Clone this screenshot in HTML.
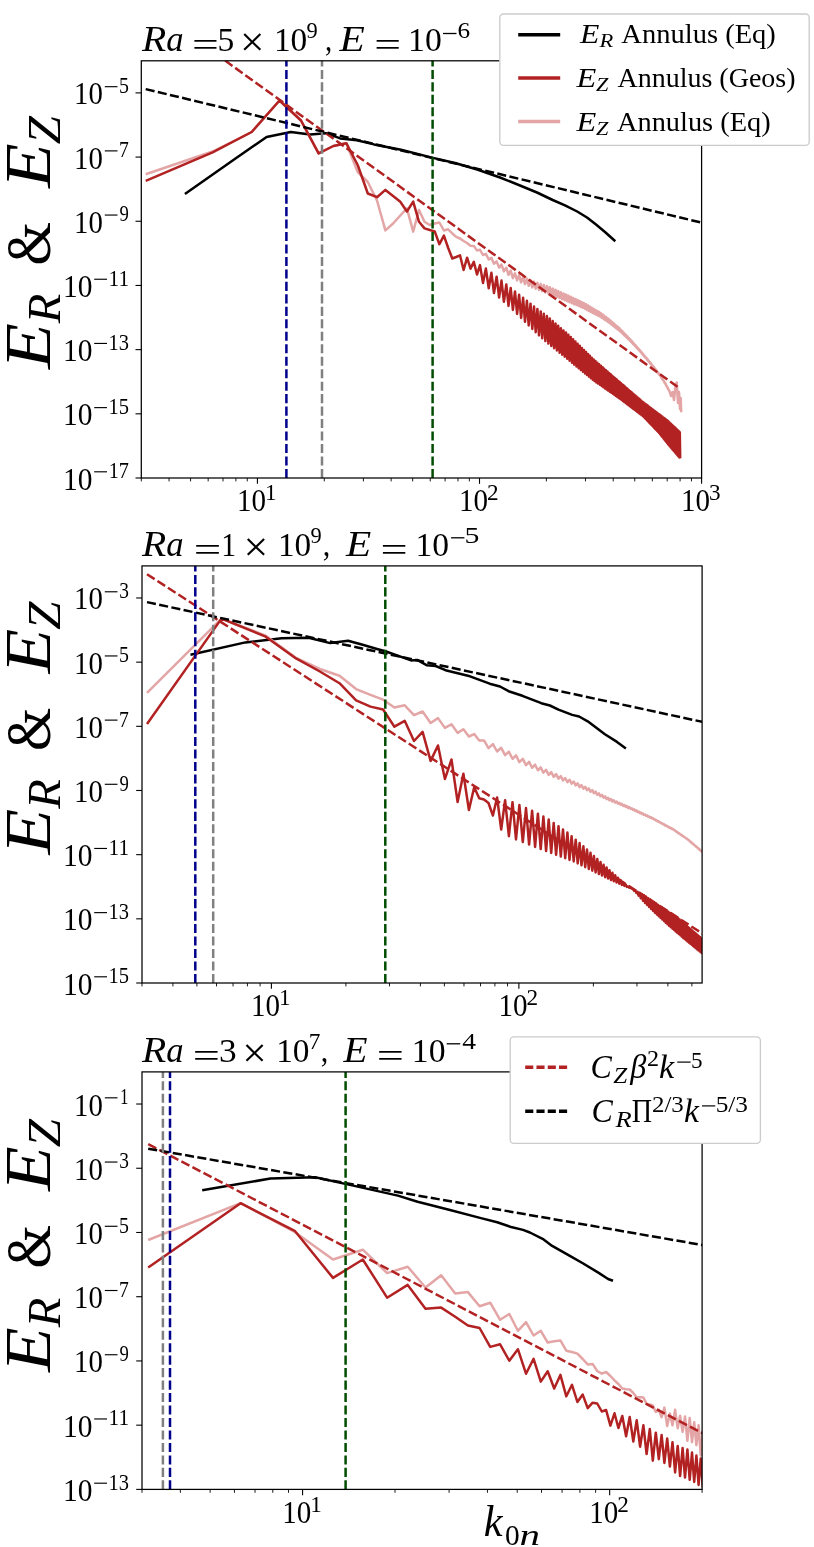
<!DOCTYPE html>
<html><head><meta charset="utf-8"><title>Spectra</title>
<style>html,body{margin:0;padding:0;background:#fff}svg{display:block;will-change:transform}text{font-family:"Liberation Serif",serif}</style>
</head><body>
<svg width="814" height="1547" viewBox="0 0 814 1547">
<rect x="0" y="0" width="814" height="1547" fill="#fff"/>
<clipPath id="c0"><rect x="141.3" y="60.8" width="560.3" height="417.2"/></clipPath>
<clipPath id="c1"><rect x="142.0" y="565.9" width="560.1" height="417.1"/></clipPath>
<clipPath id="c2"><rect x="142.0" y="1071.9" width="560.1" height="417.5"/></clipPath>
<path d="M184.9 194.0 L234.1 159.6 L266.6 136.9 L290.8 132.0 L310.2 134.4 L326.3 133.2 L340.1 138.4 L356.9 140.2 L374.0 144.4 L401.0 149.8 L433.0 157.9 L455.0 163.0 L477.2 169.5 L500.0 177.5 L520.0 185.5 L537.0 192.5 L552.7 200.0 L565.0 205.3 L577.2 211.5 L587.0 217.5 L595.7 224.3 L605.0 232.0 L615.3 241.3" fill="none" stroke="#000" stroke-width="2.5" stroke-linejoin="round"  clip-path="url(#c0)"/>
<path d="M145.7 174.3 L212.6 151.5 L251.7 132.0 L279.5 100.5 L301.0 120.5 L318.6 153.4 L333.4 146.0 L346.3 143.2 L357.7 172.0 L367.8 182.0 L377.0 200.5 L385.4 230.4 L393.1 223.5 L400.3 215.5 L406.9 208.3 L413.2 231.6 L419.0 210.0 L424.5 221.8 L429.7 225.0 L434.7 223.5 L439.4 222.5 L443.9 230.5 L448.2 229.3 L452.3 233.5 L456.2 236.9 L460.0 238.5 L463.6 241.0 L467.1 243.0 L470.5 245.8 L473.8 245.9 L477.0 250.4 L480.0 249.8 L483.0 255.0 L485.9 253.9 L488.7 259.5 L491.4 257.7 L494.0 263.7 L496.6 261.4 L499.1 267.6 L501.5 264.6 L503.9 271.3 L506.3 267.7 L508.5 274.8 L510.7 270.6 L512.9 278.1 L515.0 273.3 L517.1 280.4 L519.1 275.1 L521.1 282.3 L523.1 276.9 L525.0 284.1 L526.9 278.6 L528.7 285.8 L530.5 280.2 L532.3 287.4 L534.0 281.6 L535.7 288.7 L537.4 282.8 L539.0 290.0 L540.7 283.9 L542.2 291.2 L543.8 285.0 L545.4 292.5 L546.9 286.1 L548.4 293.6 L549.8 287.3 L551.3 294.8 L552.7 288.6 L554.1 295.9 L555.5 289.8 L556.9 297.0 L558.2 291.0 L559.6 298.1 L560.9 292.2 L562.2 299.2 L563.5 293.4 L564.7 300.2 L566.0 294.5 L567.2 301.2 L568.4 295.6 L569.6 302.2 L570.8 296.8 L572.0 303.2 L573.1 297.9 L574.2 304.2 L575.4 299.0 L576.5 305.1 L577.6 300.0 L578.7 306.0 L579.8 301.1 L580.8 306.9 L581.9 302.1 L582.9 307.8 L584.0 303.1 L585.0 308.8 L586.0 304.3 L587.0 309.9 L588.0 305.5 L589.0 310.9 L589.9 306.6 L590.9 311.9 L591.8 307.8 L592.8 312.9 L593.7 308.9 L594.6 313.8 L595.5 309.9 L596.4 314.8 L597.3 311.0 L598.2 315.7 L599.1 312.0 L600.0 316.6 L600.9 313.1 L601.7 317.7 L602.6 314.5 L603.4 318.9 L604.2 315.8 L605.1 320.0 L605.9 317.0 L606.7 321.1 L607.5 318.3 L608.3 322.2 L609.1 319.5 L609.9 323.3 L610.7 320.8 L611.4 324.5 L612.2 322.1 L613.0 325.7 L613.7 323.4 L614.5 326.9 L615.2 324.7 L616.0 328.1 L616.7 326.0 L617.4 329.2 L618.2 327.2 L618.9 330.3 L619.6 328.4 L620.3 331.5 L621.0 329.8 L621.7 332.8 L622.4 331.2 L623.1 334.1 L623.7 332.6 L624.4 335.4 L625.1 334.0 L625.8 336.7 L626.4 335.4 L627.1 338.0 L627.7 336.7 L628.4 339.2 L629.0 338.1 L629.7 340.4 L630.3 339.4 L630.9 341.7 L631.6 340.8 L632.2 343.0 L632.8 342.2 L633.4 344.3 L634.0 343.6 L634.7 345.6 L635.3 344.9 L635.9 346.9 L636.5 346.3 L637.0 348.2 L637.6 347.6 L638.2 349.4 L638.8 349.0 L639.4 350.6 L640.0 350.3 L640.5 351.9 L641.1 351.6 L641.7 353.3 L642.2 352.9 L642.8 354.6 L643.3 354.3 L643.9 355.9 L644.4 355.6 L645.0 357.2 L645.5 356.9 L646.1 358.4 L646.6 358.1 L647.2 359.7 L647.7 359.4 L648.2 360.9 L648.7 360.7 L649.3 362.2 L649.8 362.0 L650.3 363.5 L650.8 363.3 L651.3 364.7 L651.8 364.5 L652.3 366.0 L652.8 365.7 L653.3 367.2 L653.8 367.0 L654.3 368.4 L654.8 368.2 L655.3 369.6 L655.8 369.5 L656.3 370.9 L656.8 370.7 L657.3 372.1 L657.7 372.0 L658.2 373.4 L658.7 373.2 L659.2 374.6 L659.6 374.5 L660.1 375.8 L660.6 375.8 L661.0 377.2 L661.5 377.2 L661.9 378.6 L662.4 378.6 L662.9 380.0 L663.3 380.0 L663.8 381.4 L664.2 381.4 L664.6 382.8 L665.1 382.8 L665.5 384.3 L666.0 384.5 L666.4 385.9 L666.8 386.1 L667.3 387.5 L667.7 387.7 L668.1 389.1 L668.6 389.3 L669.0 390.7 L669.4 390.9 L671.0 396.0 L672.5 392.0 L674.0 400.0 L675.5 386.0 L676.7 382.5 L678.0 403.0 L679.0 392.0 L680.0 409.0 L680.7 398.0 L681.2 412.3" fill="none" stroke="#E3A5A5" stroke-width="2.5" stroke-linejoin="round"  clip-path="url(#c0)"/>
<path d="M145.7 180.9 L212.6 152.4 L251.7 132.0 L279.5 100.5 L301.0 120.5 L318.6 153.4 L333.4 146.0 L346.3 143.2 L357.7 165.0 L367.8 193.5 L377.0 197.2 L385.4 189.9 L393.1 196.0 L400.3 201.8 L406.9 211.5 L413.2 201.6 L419.0 221.8 L424.5 228.4 L429.7 230.0 L434.7 231.4 L439.4 244.2 L443.9 235.6 L448.2 248.0 L452.3 258.5 L456.2 257.0 L460.0 255.3 L463.6 270.0 L467.1 257.7 L470.5 268.6 L473.8 261.9 L477.0 274.5 L480.0 265.1 L483.0 283.1 L485.9 268.6 L488.7 288.3 L491.4 272.8 L494.0 293.0 L496.6 276.7 L499.1 297.5 L501.5 280.6 L503.9 301.8 L506.3 284.4 L508.5 305.9 L510.7 288.0 L512.9 309.9 L515.0 291.4 L517.1 313.9 L519.1 294.7 L521.1 317.9 L523.1 297.8 L525.0 321.8 L526.9 300.8 L528.7 325.5 L530.5 303.7 L532.3 329.0 L534.0 306.4 L535.7 332.2 L537.4 308.9 L539.0 335.3 L540.7 311.4 L542.2 338.3 L543.8 313.8 L545.4 341.1 L546.9 316.1 L548.4 343.6 L549.8 318.4 L551.3 345.9 L552.7 321.0 L554.1 348.2 L555.5 323.4 L556.9 350.5 L558.2 325.8 L559.6 352.7 L560.9 328.2 L562.2 354.8 L563.5 330.4 L564.7 356.8 L566.0 332.6 L567.2 358.8 L568.4 334.8 L569.6 360.8 L570.8 337.0 L572.0 362.7 L573.1 339.3 L574.2 364.6 L575.4 341.5 L576.5 366.4 L577.6 343.7 L578.7 368.2 L579.8 345.8 L580.8 370.0 L581.9 347.9 L582.9 371.7 L584.0 350.0 L585.0 373.4 L586.0 351.9 L587.0 375.0 L588.0 353.9 L589.0 376.6 L589.9 355.8 L590.9 378.2 L591.8 357.7 L592.8 379.7 L593.7 359.5 L594.6 381.1 L595.5 361.1 L596.4 382.4 L597.3 362.7 L598.2 383.6 L599.1 364.2 L600.0 384.8 L600.9 365.8 L601.7 386.0 L602.6 367.2 L603.4 387.2 L604.2 368.7 L605.1 388.4 L605.9 370.2 L606.7 389.5 L607.5 371.6 L608.3 390.6 L609.1 373.0 L609.9 391.7 L610.7 374.3 L611.4 392.8 L612.2 375.7 L613.0 393.8 L613.7 377.0 L614.5 394.9 L615.2 378.3 L616.0 395.9 L616.7 379.6 L617.4 396.9 L618.2 380.9 L618.9 397.9 L619.6 382.1 L620.3 399.0 L621.0 383.3 L621.7 400.0 L622.4 384.5 L623.1 401.1 L623.7 385.6 L624.4 402.1 L625.1 386.8 L625.8 403.1 L626.4 387.9 L627.1 404.1 L627.7 389.1 L628.4 405.1 L629.0 390.2 L629.7 406.1 L630.3 391.3 L630.9 407.0 L631.6 392.3 L632.2 407.9 L632.8 393.4 L633.4 408.9 L634.0 394.4 L634.7 409.8 L635.3 395.5 L635.9 410.7 L636.5 396.5 L637.0 411.6 L637.6 397.5 L638.2 412.5 L638.8 398.5 L639.4 413.4 L640.0 399.5 L640.5 414.2 L641.1 400.5 L641.7 415.1 L642.2 401.4 L642.8 415.9 L643.3 402.3 L643.9 417.0 L644.4 403.2 L645.0 418.2 L645.5 404.0 L646.1 419.3 L646.6 404.8 L647.2 420.4 L647.7 405.6 L648.2 421.5 L648.7 406.4 L649.3 422.6 L649.8 407.2 L650.3 423.7 L650.8 408.0 L651.3 424.7 L651.8 408.7 L652.3 425.8 L652.8 409.5 L653.3 426.8 L653.8 410.3 L654.3 427.9 L654.8 411.0 L655.3 428.9 L655.8 411.7 L656.3 429.9 L656.8 412.5 L657.3 430.9 L657.7 413.2 L658.2 431.9 L658.7 413.9 L659.2 432.9 L659.6 414.6 L660.1 434.1 L660.6 415.3 L661.0 435.2 L661.5 416.0 L661.9 436.4 L662.4 416.7 L662.9 437.5 L663.3 417.4 L663.8 438.7 L664.2 418.1 L664.6 439.8 L665.1 418.8 L665.5 440.9 L666.0 419.4 L666.4 442.0 L666.8 420.1 L667.3 443.1 L667.7 420.8 L668.1 444.2 L668.6 421.6 L669.0 445.2 L669.4 422.4 L669.8 446.3 L670.3 423.2 L670.7 447.3 L671.1 424.0 L671.5 448.3 L671.9 424.7 L672.3 449.3 L672.7 425.5 L673.2 450.2 L673.6 426.3 L674.0 451.1 L674.4 427.0 L674.8 452.0 L675.2 427.8 L675.6 453.0 L676.0 428.5 L676.4 453.9 L676.7 429.3 L677.1 454.8 L677.5 430.0 L677.9 455.7 L678.3 430.7 L678.7 456.5 L679.1 431.4 L679.5 457.4 L679.8 432.2 L680.2 458.3" fill="none" stroke="#B22222" stroke-width="2.5" stroke-linejoin="round"  clip-path="url(#c0)"/>
<path d="M215.0 53.3 L678.9 387.8" fill="none" stroke="#B22222" stroke-width="2.5" stroke-linejoin="round" stroke-dasharray="9.08 3.39" clip-path="url(#c0)"/>
<path d="M145.7 89.1 L703.0 223.0" fill="none" stroke="#000" stroke-width="2.5" stroke-linejoin="round" stroke-dasharray="9.08 3.39" clip-path="url(#c0)"/>
<line x1="286.40" y1="478.00" x2="286.40" y2="60.80" stroke="#00008B" stroke-width="2.5" stroke-dasharray="9.08 3.39"/>
<line x1="322.00" y1="478.00" x2="322.00" y2="60.80" stroke="#808080" stroke-width="2.5" stroke-dasharray="9.08 3.39"/>
<line x1="432.60" y1="478.00" x2="432.60" y2="60.80" stroke="#004d00" stroke-width="2.5" stroke-dasharray="9.08 3.39"/>
<path d="M190.5 654.7 L245.4 642.4 L281.6 638.2 L308.6 637.8 L330.2 643.1 L348.1 640.7 L363.5 645.0 L377.0 649.0 L385.3 651.3 L411.1 660.4 L417.2 659.9 L427.0 665.3 L435.7 666.0 L445.5 670.2 L470.0 676.3 L489.7 683.7 L500.0 686.5 L508.6 691.2 L522.4 695.8 L541.3 703.2 L549.9 705.5 L558.5 709.6 L572.2 714.9 L579.1 716.5 L587.7 721.3 L596.3 727.8 L604.9 734.2 L617.0 741.9 L625.9 748.5" fill="none" stroke="#000" stroke-width="2.5" stroke-linejoin="round"  clip-path="url(#c1)"/>
<path d="M147.0 692.8 L221.5 618.6 L265.0 635.3 L296.0 657.8 L319.9 669.0 L339.5 675.8 L356.1 689.1 L370.5 694.8 L383.1 699.7 L394.4 707.5 L404.7 705.3 L414.0 715.2 L422.6 711.5 L430.6 723.0 L438.0 718.1 L444.9 727.9 L451.5 724.3 L457.6 732.9 L463.4 729.2 L468.9 736.5 L474.2 734.1 L479.2 740.5 L484.0 740.4 L488.5 748.1 L492.9 744.1 L497.1 751.5 L501.2 747.8 L505.1 755.2 L508.9 751.7 L512.5 758.8 L516.0 755.4 L519.4 762.2 L522.8 758.9 L526.0 765.2 L529.1 761.9 L532.1 767.8 L535.1 764.7 L537.9 770.3 L540.7 767.4 L543.4 772.7 L546.1 769.9 L548.7 774.9 L551.2 772.1 L553.7 776.8 L556.1 774.2 L558.5 778.7 L560.8 776.1 L563.0 780.4 L565.2 778.0 L567.4 782.1 L569.5 779.7 L571.6 783.7 L573.7 781.5 L575.7 785.4 L577.7 783.3 L579.6 787.1 L581.5 785.1 L583.4 788.7 L585.2 786.8 L587.0 790.2 L588.8 788.4 L590.5 791.7 L592.3 790.1 L593.9 793.3 L595.6 791.7 L597.3 794.8 L598.9 793.3 L600.5 796.3 L602.0 794.9 L603.6 797.7 L605.1 796.4 L606.6 799.1 L608.1 797.8 L609.5 800.3 L611.0 799.1 L612.4 801.5 L613.8 800.3 L615.2 802.6 L616.6 801.5 L617.9 803.7 L619.3 802.7 L620.6 804.8 L621.9 803.9 L623.2 805.9 L624.4 805.0 L625.7 806.9 L626.9 806.1 L628.2 807.9 L629.4 807.1 L630.6 808.9 L631.8 808.3 L632.9 809.9 L634.1 809.3 L635.3 811.0 L636.4 810.4 L637.5 812.0 L638.6 811.5 L639.7 813.0 L640.8 812.5 L641.9 814.0 L643.0 813.5 L644.0 814.9 L645.1 814.5 L646.1 815.8 L647.2 815.4 L648.2 816.8 L649.2 816.4 L650.2 817.7 L651.2 817.3 L652.2 818.6 L653.1 818.3 L654.1 819.6 L655.0 819.4 L656.0 820.6 L656.9 820.4 L657.9 821.6 L658.8 821.4 L659.7 822.5 L660.6 822.4 L661.5 823.5 L662.4 823.4 L663.3 824.4 L664.2 824.3 L665.0 825.4 L665.9 825.2 L666.7 826.3 L667.6 826.2 L668.4 827.2 L669.3 827.1 L670.1 828.1 L670.9 827.9 L671.7 828.9 L672.6 828.8 L673.4 829.8 L674.2 829.8 L675.0 830.8 L675.7 830.9 L676.5 831.9 L677.3 831.9 L678.1 833.0 L678.8 833.0 L679.6 834.1 L680.4 834.1 L681.1 835.1 L681.8 835.1 L682.6 836.1 L683.3 836.1 L684.0 837.1 L684.8 837.2 L685.5 838.1 L686.2 838.2 L686.9 839.1 L687.6 839.1 L688.3 840.1 L689.0 840.2 L689.7 841.3 L690.4 841.4 L691.1 842.5 L691.8 842.6 L692.4 843.6 L693.1 843.7 L693.8 844.8 L694.4 844.9 L695.1 845.9 L695.7 846.0 L696.4 847.0 L697.0 847.1 L697.7 848.1 L698.3 848.3 L698.9 849.2 L699.6 849.3 L700.2 850.3 L700.8 850.4 L701.4 851.4 L702.1 851.6 L702.7 852.5 L703.3 852.7 L703.9 853.6 L704.5 853.7" fill="none" stroke="#E3A5A5" stroke-width="2.5" stroke-linejoin="round"  clip-path="url(#c1)"/>
<path d="M147.0 724.0 L221.5 618.6 L265.0 636.3 L296.0 658.4 L319.9 671.5 L339.5 683.2 L356.1 700.4 L370.5 706.6 L383.1 709.5 L394.4 726.7 L404.7 720.8 L414.0 741.0 L422.6 731.8 L430.6 760.9 L438.0 745.5 L444.9 779.1 L451.5 759.5 L457.6 802.0 L463.4 773.7 L468.9 810.0 L474.2 787.2 L479.2 798.3 L484.0 799.5 L488.5 803.0 L492.9 815.5 L497.1 797.5 L501.2 829.6 L505.1 800.2 L508.9 836.2 L512.5 802.2 L516.0 839.4 L519.4 805.1 L522.8 842.1 L526.0 808.0 L529.1 844.6 L532.1 810.8 L535.1 847.0 L537.9 813.7 L540.7 849.1 L543.4 816.5 L546.1 851.1 L548.7 819.5 L551.2 853.0 L553.7 823.0 L556.1 854.8 L558.5 826.2 L560.8 856.6 L563.0 829.4 L565.2 858.2 L567.4 832.6 L569.5 859.9 L571.6 836.2 L573.7 861.4 L575.7 839.7 L577.7 863.4 L579.6 843.0 L581.5 865.3 L583.4 846.3 L585.2 867.2 L587.0 849.6 L588.8 869.0 L590.5 852.8 L592.3 870.7 L593.9 856.0 L595.6 872.4 L597.3 859.0 L598.9 874.0 L600.5 861.9 L602.0 875.6 L603.6 864.8 L605.1 877.2 L606.6 867.5 L608.1 878.6 L609.5 870.2 L611.0 880.0 L612.4 872.8 L613.8 881.2 L615.2 875.3 L616.6 882.5 L617.9 877.8 L619.3 883.7 L620.6 880.1 L621.9 884.9 L623.2 882.4 L624.4 885.9 L625.7 884.7 L626.9 886.9 L628.2 886.6 L629.4 887.8 L630.6 887.8 L631.8 888.7 L632.9 889.1 L634.1 890.7 L635.3 890.4 L636.4 893.0 L637.5 891.7 L638.6 895.6 L639.7 892.9 L640.8 898.2 L641.9 894.1 L643.0 900.8 L644.0 895.3 L645.1 903.1 L646.1 896.7 L647.2 905.1 L648.2 898.2 L649.2 907.1 L650.2 899.6 L651.2 909.0 L652.2 901.0 L653.1 910.9 L654.1 902.3 L655.0 912.8 L656.0 903.7 L656.9 914.6 L657.9 904.9 L658.8 916.3 L659.7 906.1 L660.6 918.0 L661.5 907.3 L662.4 919.6 L663.3 908.5 L664.2 921.2 L665.0 909.6 L665.9 922.8 L666.7 910.7 L667.6 924.3 L668.4 911.8 L669.3 925.9 L670.1 912.9 L670.9 927.3 L671.7 914.0 L672.6 928.7 L673.4 915.1 L674.2 930.0 L675.0 916.1 L675.7 931.4 L676.5 917.1 L677.3 932.7 L678.1 918.2 L678.8 934.0 L679.6 919.6 L680.4 935.3 L681.1 920.9 L681.8 936.6 L682.6 922.2 L683.3 937.9 L684.0 923.5 L684.8 939.1 L685.5 924.8 L686.2 940.3 L686.9 926.0 L687.6 941.5 L688.3 927.3 L689.0 942.6 L689.7 928.5 L690.4 943.7 L691.1 929.6 L691.8 944.8 L692.4 930.8 L693.1 945.9 L693.8 931.9 L694.4 947.0 L695.1 933.0 L695.7 948.1 L696.4 934.1 L697.0 949.2 L697.7 935.2 L698.3 950.2 L698.9 936.3 L699.6 951.2 L700.2 937.3 L700.8 952.3 L701.4 938.4 L702.1 953.3 L702.7 939.5 L703.3 954.4 L703.9 940.5 L704.5 955.4" fill="none" stroke="#B22222" stroke-width="2.5" stroke-linejoin="round"  clip-path="url(#c1)"/>
<path d="M147.0 574.2 L704.0 934.6" fill="none" stroke="#B22222" stroke-width="2.5" stroke-linejoin="round" stroke-dasharray="9.08 3.39" clip-path="url(#c1)"/>
<path d="M147.0 602.1 L704.0 722.2" fill="none" stroke="#000" stroke-width="2.5" stroke-linejoin="round" stroke-dasharray="9.08 3.39" clip-path="url(#c1)"/>
<line x1="195.30" y1="983.00" x2="195.30" y2="565.90" stroke="#00008B" stroke-width="2.5" stroke-dasharray="9.08 3.39"/>
<line x1="213.20" y1="983.00" x2="213.20" y2="565.90" stroke="#808080" stroke-width="2.5" stroke-dasharray="9.08 3.39"/>
<line x1="385.30" y1="983.00" x2="385.30" y2="565.90" stroke="#004d00" stroke-width="2.5" stroke-dasharray="9.08 3.39"/>
<path d="M202.2 1190.2 L270.4 1178.6 L315.2 1177.2 L348.7 1184.6 L397.9 1195.6 L417.6 1201.8 L450.0 1210.0 L480.0 1217.9 L497.2 1222.2 L511.0 1227.0 L523.0 1229.9 L529.9 1232.5 L543.6 1239.4 L552.2 1245.9 L569.4 1255.7 L583.2 1263.5 L598.7 1272.9 L608.1 1279.0 L613.0 1280.7" fill="none" stroke="#000" stroke-width="2.5" stroke-linejoin="round"  clip-path="url(#c2)"/>
<path d="M148.2 1240.0 L240.6 1203.2 L294.7 1232.0 L333.0 1259.5 L362.8 1249.7 L387.1 1273.1 L407.7 1266.7 L425.5 1287.5 L441.2 1275.3 L455.2 1293.6 L467.9 1292.1 L479.6 1306.3 L490.2 1302.7 L500.1 1319.8 L509.3 1314.0 L517.9 1330.8 L526.0 1322.2 L533.6 1335.5 L540.8 1330.8 L547.7 1342.5 L554.2 1341.2 L560.4 1340.4 L566.3 1350.7 L572.0 1352.0 L577.4 1353.6 L582.7 1359.0 L587.7 1364.4 L592.6 1363.9 L597.2 1371.0 L601.8 1373.7 L606.1 1372.0 L610.4 1376.0 L614.5 1380.3 L618.4 1384.0 L622.3 1388.5 L626.1 1389.2 L629.7 1389.5 L633.3 1393.0 L636.7 1397.3 L640.1 1397.3 L643.4 1397.5 L646.6 1403.9 L649.8 1404.5 L652.8 1405.4 L655.8 1412.0 L658.8 1409.8 L661.6 1417.2 L664.4 1407.6 L667.2 1426.0 L669.9 1413.5 L672.5 1425.3 L675.1 1409.8 L677.7 1428.2 L680.1 1415.7 L682.6 1431.9 L685.0 1416.4 L687.4 1440.8 L689.7 1417.9 L692.0 1442.2 L694.2 1422.3 L696.4 1445.2 L698.6 1425.3 L700.7 1455.5 L702.8 1430.0" fill="none" stroke="#E3A5A5" stroke-width="2.5" stroke-linejoin="round"  clip-path="url(#c2)"/>
<path d="M148.2 1267.5 L240.6 1203.2 L294.7 1230.8 L333.0 1277.9 L362.8 1259.5 L387.1 1297.7 L407.7 1284.9 L425.5 1308.8 L441.2 1307.6 L455.2 1316.7 L467.9 1325.5 L479.6 1328.0 L490.2 1346.9 L500.1 1344.3 L509.3 1360.7 L517.9 1349.2 L526.0 1373.7 L533.6 1358.8 L540.8 1381.6 L547.7 1371.3 L554.2 1388.5 L560.4 1374.9 L566.3 1396.3 L572.0 1384.8 L577.4 1402.0 L582.7 1394.6 L587.7 1408.1 L592.6 1402.7 L597.2 1403.5 L601.8 1411.5 L606.1 1410.0 L610.4 1425.6 L614.5 1413.3 L618.4 1428.0 L622.3 1416.0 L626.1 1436.3 L629.7 1417.0 L633.3 1441.5 L636.7 1420.2 L640.1 1446.7 L643.4 1425.3 L646.6 1454.0 L649.8 1429.0 L652.8 1460.7 L655.8 1432.7 L658.8 1459.2 L661.6 1434.9 L664.4 1462.9 L667.2 1438.6 L669.9 1466.6 L672.5 1442.2 L675.1 1472.5 L677.7 1445.9 L680.1 1476.1 L682.6 1448.1 L685.0 1477.6 L687.4 1449.6 L689.7 1479.8 L692.0 1452.6 L694.2 1482.0 L696.4 1455.5 L698.6 1485.0 L700.7 1458.5 L702.8 1487.5" fill="none" stroke="#B22222" stroke-width="2.5" stroke-linejoin="round"  clip-path="url(#c2)"/>
<path d="M148.2 1144.1 L704.0 1434.0" fill="none" stroke="#B22222" stroke-width="2.5" stroke-linejoin="round" stroke-dasharray="9.08 3.39" clip-path="url(#c2)"/>
<path d="M148.2 1148.7 L704.0 1245.3" fill="none" stroke="#000" stroke-width="2.5" stroke-linejoin="round" stroke-dasharray="9.08 3.39" clip-path="url(#c2)"/>
<line x1="162.90" y1="1489.40" x2="162.90" y2="1071.90" stroke="#808080" stroke-width="2.5" stroke-dasharray="9.08 3.39"/>
<line x1="170.00" y1="1489.40" x2="170.00" y2="1071.90" stroke="#00008B" stroke-width="2.5" stroke-dasharray="9.08 3.39"/>
<line x1="345.60" y1="1489.40" x2="345.60" y2="1071.90" stroke="#004d00" stroke-width="2.5" stroke-dasharray="9.08 3.39"/>
<rect x="141.3" y="60.8" width="560.3" height="417.2" fill="none" stroke="#000" stroke-width="1.25"/>
<line x1="135.50" y1="92.89" x2="141.30" y2="92.89" stroke="#000" stroke-width="1.1" />
<text transform="translate(119.06,93.09) scale(0.8567,1)" font-size="23.20" fill="#000">5</text>
<line x1="104.80" y1="86.69" x2="117.50" y2="86.69" stroke="#000" stroke-width="1.15" />
<text transform="translate(74.08,104.39) scale(0.9114,1)" font-size="31.60" fill="#000">10</text>
<line x1="135.50" y1="157.08" x2="141.30" y2="157.08" stroke="#000" stroke-width="1.1" />
<text transform="translate(118.92,157.28) scale(0.8462,1)" font-size="23.20" fill="#000">7</text>
<line x1="104.80" y1="150.88" x2="117.50" y2="150.88" stroke="#000" stroke-width="1.15" />
<text transform="translate(74.08,168.58) scale(0.9114,1)" font-size="31.60" fill="#000">10</text>
<line x1="135.50" y1="221.26" x2="141.30" y2="221.26" stroke="#000" stroke-width="1.1" />
<text transform="translate(119.59,221.46) scale(0.8066,1)" font-size="23.20" fill="#000">9</text>
<line x1="104.80" y1="215.06" x2="117.50" y2="215.06" stroke="#000" stroke-width="1.15" />
<text transform="translate(74.08,232.76) scale(0.9114,1)" font-size="31.60" fill="#000">10</text>
<line x1="135.50" y1="285.45" x2="141.30" y2="285.45" stroke="#000" stroke-width="1.1" />
<text transform="translate(108.53,285.65) scale(0.9202,1)" font-size="23.20" fill="#000">11</text>
<line x1="94.20" y1="279.25" x2="107.00" y2="279.25" stroke="#000" stroke-width="1.15" />
<text transform="translate(62.92,296.95) scale(0.9331,1)" font-size="31.60" fill="#000">10</text>
<line x1="135.50" y1="349.63" x2="141.30" y2="349.63" stroke="#000" stroke-width="1.1" />
<text transform="translate(108.60,349.83) scale(0.8843,1)" font-size="23.20" fill="#000">13</text>
<line x1="94.20" y1="343.43" x2="107.00" y2="343.43" stroke="#000" stroke-width="1.15" />
<text transform="translate(62.92,361.13) scale(0.9331,1)" font-size="31.60" fill="#000">10</text>
<line x1="135.50" y1="413.82" x2="141.30" y2="413.82" stroke="#000" stroke-width="1.1" />
<text transform="translate(108.60,414.02) scale(0.8843,1)" font-size="23.20" fill="#000">15</text>
<line x1="94.20" y1="407.62" x2="107.00" y2="407.62" stroke="#000" stroke-width="1.15" />
<text transform="translate(62.92,425.32) scale(0.9331,1)" font-size="31.60" fill="#000">10</text>
<line x1="135.50" y1="478.00" x2="141.30" y2="478.00" stroke="#000" stroke-width="1.1" />
<text transform="translate(108.63,478.20) scale(0.8718,1)" font-size="23.20" fill="#000">17</text>
<line x1="94.20" y1="471.80" x2="107.00" y2="471.80" stroke="#000" stroke-width="1.15" />
<text transform="translate(62.92,489.50) scale(0.9331,1)" font-size="31.60" fill="#000">10</text>
<line x1="141.30" y1="478.00" x2="141.30" y2="481.40" stroke="#000" stroke-width="0.9" />
<line x1="169.05" y1="478.00" x2="169.05" y2="481.40" stroke="#000" stroke-width="0.9" />
<line x1="190.57" y1="478.00" x2="190.57" y2="481.40" stroke="#000" stroke-width="0.9" />
<line x1="208.16" y1="478.00" x2="208.16" y2="481.40" stroke="#000" stroke-width="0.9" />
<line x1="223.02" y1="478.00" x2="223.02" y2="481.40" stroke="#000" stroke-width="0.9" />
<line x1="235.90" y1="478.00" x2="235.90" y2="481.40" stroke="#000" stroke-width="0.9" />
<line x1="247.26" y1="478.00" x2="247.26" y2="481.40" stroke="#000" stroke-width="0.9" />
<line x1="257.42" y1="478.00" x2="257.42" y2="483.80" stroke="#000" stroke-width="1.1" />
<text transform="translate(237.00,511.20) scale(0.9186,1)" font-size="31.60" fill="#000">10</text>
<text transform="translate(265.11,500.20) scale(1.0000,1)" font-size="23.20" fill="#000">1</text>
<line x1="324.28" y1="478.00" x2="324.28" y2="481.40" stroke="#000" stroke-width="0.9" />
<line x1="363.39" y1="478.00" x2="363.39" y2="481.40" stroke="#000" stroke-width="0.9" />
<line x1="391.13" y1="478.00" x2="391.13" y2="481.40" stroke="#000" stroke-width="0.9" />
<line x1="412.66" y1="478.00" x2="412.66" y2="481.40" stroke="#000" stroke-width="0.9" />
<line x1="430.24" y1="478.00" x2="430.24" y2="481.40" stroke="#000" stroke-width="0.9" />
<line x1="445.11" y1="478.00" x2="445.11" y2="481.40" stroke="#000" stroke-width="0.9" />
<line x1="457.99" y1="478.00" x2="457.99" y2="481.40" stroke="#000" stroke-width="0.9" />
<line x1="469.35" y1="478.00" x2="469.35" y2="481.40" stroke="#000" stroke-width="0.9" />
<line x1="479.51" y1="478.00" x2="479.51" y2="483.80" stroke="#000" stroke-width="1.1" />
<text transform="translate(459.10,511.20) scale(0.9186,1)" font-size="31.60" fill="#000">10</text>
<text transform="translate(487.06,500.20) scale(1.0000,1)" font-size="23.20" fill="#000">2</text>
<line x1="546.37" y1="478.00" x2="546.37" y2="481.40" stroke="#000" stroke-width="0.9" />
<line x1="585.48" y1="478.00" x2="585.48" y2="481.40" stroke="#000" stroke-width="0.9" />
<line x1="613.22" y1="478.00" x2="613.22" y2="481.40" stroke="#000" stroke-width="0.9" />
<line x1="634.74" y1="478.00" x2="634.74" y2="481.40" stroke="#000" stroke-width="0.9" />
<line x1="652.33" y1="478.00" x2="652.33" y2="481.40" stroke="#000" stroke-width="0.9" />
<line x1="667.20" y1="478.00" x2="667.20" y2="481.40" stroke="#000" stroke-width="0.9" />
<line x1="680.08" y1="478.00" x2="680.08" y2="481.40" stroke="#000" stroke-width="0.9" />
<line x1="691.44" y1="478.00" x2="691.44" y2="481.40" stroke="#000" stroke-width="0.9" />
<line x1="701.60" y1="478.00" x2="701.60" y2="483.80" stroke="#000" stroke-width="1.1" />
<text transform="translate(681.07,511.20) scale(0.9186,1)" font-size="31.60" fill="#000">10</text>
<text transform="translate(708.91,500.20) scale(1.0000,1)" font-size="23.20" fill="#000">3</text>
<rect x="142.0" y="565.9" width="560.1" height="417.1" fill="none" stroke="#000" stroke-width="1.25"/>
<line x1="136.20" y1="597.98" x2="142.00" y2="597.98" stroke="#000" stroke-width="1.1" />
<text transform="translate(119.28,598.18) scale(0.8359,1)" font-size="23.20" fill="#000">3</text>
<line x1="104.80" y1="591.78" x2="117.50" y2="591.78" stroke="#000" stroke-width="1.15" />
<text transform="translate(74.08,609.48) scale(0.9114,1)" font-size="31.60" fill="#000">10</text>
<line x1="136.20" y1="662.15" x2="142.00" y2="662.15" stroke="#000" stroke-width="1.1" />
<text transform="translate(119.06,662.35) scale(0.8567,1)" font-size="23.20" fill="#000">5</text>
<line x1="104.80" y1="655.95" x2="117.50" y2="655.95" stroke="#000" stroke-width="1.15" />
<text transform="translate(74.08,673.65) scale(0.9114,1)" font-size="31.60" fill="#000">10</text>
<line x1="136.20" y1="726.32" x2="142.00" y2="726.32" stroke="#000" stroke-width="1.1" />
<text transform="translate(118.92,726.52) scale(0.8462,1)" font-size="23.20" fill="#000">7</text>
<line x1="104.80" y1="720.12" x2="117.50" y2="720.12" stroke="#000" stroke-width="1.15" />
<text transform="translate(74.08,737.82) scale(0.9114,1)" font-size="31.60" fill="#000">10</text>
<line x1="136.20" y1="790.49" x2="142.00" y2="790.49" stroke="#000" stroke-width="1.1" />
<text transform="translate(119.59,790.69) scale(0.8066,1)" font-size="23.20" fill="#000">9</text>
<line x1="104.80" y1="784.29" x2="117.50" y2="784.29" stroke="#000" stroke-width="1.15" />
<text transform="translate(74.08,801.99) scale(0.9114,1)" font-size="31.60" fill="#000">10</text>
<line x1="136.20" y1="854.66" x2="142.00" y2="854.66" stroke="#000" stroke-width="1.1" />
<text transform="translate(108.53,854.86) scale(0.9202,1)" font-size="23.20" fill="#000">11</text>
<line x1="94.20" y1="848.46" x2="107.00" y2="848.46" stroke="#000" stroke-width="1.15" />
<text transform="translate(62.92,866.16) scale(0.9331,1)" font-size="31.60" fill="#000">10</text>
<line x1="136.20" y1="918.83" x2="142.00" y2="918.83" stroke="#000" stroke-width="1.1" />
<text transform="translate(108.60,919.03) scale(0.8843,1)" font-size="23.20" fill="#000">13</text>
<line x1="94.20" y1="912.63" x2="107.00" y2="912.63" stroke="#000" stroke-width="1.15" />
<text transform="translate(62.92,930.33) scale(0.9331,1)" font-size="31.60" fill="#000">10</text>
<line x1="136.20" y1="983.00" x2="142.00" y2="983.00" stroke="#000" stroke-width="1.1" />
<text transform="translate(108.60,983.20) scale(0.8843,1)" font-size="23.20" fill="#000">15</text>
<line x1="94.20" y1="976.80" x2="107.00" y2="976.80" stroke="#000" stroke-width="1.15" />
<text transform="translate(62.92,994.50) scale(0.9331,1)" font-size="31.60" fill="#000">10</text>
<line x1="142.00" y1="983.00" x2="142.00" y2="986.40" stroke="#000" stroke-width="0.9" />
<line x1="172.92" y1="983.00" x2="172.92" y2="986.40" stroke="#000" stroke-width="0.9" />
<line x1="196.90" y1="983.00" x2="196.90" y2="986.40" stroke="#000" stroke-width="0.9" />
<line x1="216.50" y1="983.00" x2="216.50" y2="986.40" stroke="#000" stroke-width="0.9" />
<line x1="233.07" y1="983.00" x2="233.07" y2="986.40" stroke="#000" stroke-width="0.9" />
<line x1="247.42" y1="983.00" x2="247.42" y2="986.40" stroke="#000" stroke-width="0.9" />
<line x1="260.08" y1="983.00" x2="260.08" y2="986.40" stroke="#000" stroke-width="0.9" />
<line x1="271.40" y1="983.00" x2="271.40" y2="988.80" stroke="#000" stroke-width="1.1" />
<text transform="translate(250.97,1016.20) scale(0.9186,1)" font-size="31.60" fill="#000">10</text>
<text transform="translate(279.08,1005.20) scale(1.0000,1)" font-size="23.20" fill="#000">1</text>
<line x1="345.90" y1="983.00" x2="345.90" y2="986.40" stroke="#000" stroke-width="0.9" />
<line x1="389.48" y1="983.00" x2="389.48" y2="986.40" stroke="#000" stroke-width="0.9" />
<line x1="420.40" y1="983.00" x2="420.40" y2="986.40" stroke="#000" stroke-width="0.9" />
<line x1="444.38" y1="983.00" x2="444.38" y2="986.40" stroke="#000" stroke-width="0.9" />
<line x1="463.97" y1="983.00" x2="463.97" y2="986.40" stroke="#000" stroke-width="0.9" />
<line x1="480.54" y1="983.00" x2="480.54" y2="986.40" stroke="#000" stroke-width="0.9" />
<line x1="494.89" y1="983.00" x2="494.89" y2="986.40" stroke="#000" stroke-width="0.9" />
<line x1="507.55" y1="983.00" x2="507.55" y2="986.40" stroke="#000" stroke-width="0.9" />
<line x1="518.88" y1="983.00" x2="518.88" y2="988.80" stroke="#000" stroke-width="1.1" />
<text transform="translate(498.47,1016.20) scale(0.9186,1)" font-size="31.60" fill="#000">10</text>
<text transform="translate(526.42,1005.20) scale(1.0000,1)" font-size="23.20" fill="#000">2</text>
<line x1="593.38" y1="983.00" x2="593.38" y2="986.40" stroke="#000" stroke-width="0.9" />
<line x1="636.95" y1="983.00" x2="636.95" y2="986.40" stroke="#000" stroke-width="0.9" />
<line x1="667.87" y1="983.00" x2="667.87" y2="986.40" stroke="#000" stroke-width="0.9" />
<line x1="691.86" y1="983.00" x2="691.86" y2="986.40" stroke="#000" stroke-width="0.9" />
<rect x="142.0" y="1071.9" width="560.1" height="417.5" fill="none" stroke="#000" stroke-width="1.25"/>
<line x1="136.20" y1="1104.02" x2="142.00" y2="1104.02" stroke="#000" stroke-width="1.1" />
<text transform="translate(119.91,1104.22) scale(0.7337,1)" font-size="23.20" fill="#000">1</text>
<line x1="104.80" y1="1097.82" x2="117.50" y2="1097.82" stroke="#000" stroke-width="1.15" />
<text transform="translate(74.08,1115.52) scale(0.9114,1)" font-size="31.60" fill="#000">10</text>
<line x1="136.20" y1="1168.25" x2="142.00" y2="1168.25" stroke="#000" stroke-width="1.1" />
<text transform="translate(119.28,1168.45) scale(0.8359,1)" font-size="23.20" fill="#000">3</text>
<line x1="104.80" y1="1162.05" x2="117.50" y2="1162.05" stroke="#000" stroke-width="1.15" />
<text transform="translate(74.08,1179.75) scale(0.9114,1)" font-size="31.60" fill="#000">10</text>
<line x1="136.20" y1="1232.48" x2="142.00" y2="1232.48" stroke="#000" stroke-width="1.1" />
<text transform="translate(119.06,1232.68) scale(0.8567,1)" font-size="23.20" fill="#000">5</text>
<line x1="104.80" y1="1226.28" x2="117.50" y2="1226.28" stroke="#000" stroke-width="1.15" />
<text transform="translate(74.08,1243.98) scale(0.9114,1)" font-size="31.60" fill="#000">10</text>
<line x1="136.20" y1="1296.71" x2="142.00" y2="1296.71" stroke="#000" stroke-width="1.1" />
<text transform="translate(118.92,1296.91) scale(0.8462,1)" font-size="23.20" fill="#000">7</text>
<line x1="104.80" y1="1290.51" x2="117.50" y2="1290.51" stroke="#000" stroke-width="1.15" />
<text transform="translate(74.08,1308.21) scale(0.9114,1)" font-size="31.60" fill="#000">10</text>
<line x1="136.20" y1="1360.94" x2="142.00" y2="1360.94" stroke="#000" stroke-width="1.1" />
<text transform="translate(119.59,1361.14) scale(0.8066,1)" font-size="23.20" fill="#000">9</text>
<line x1="104.80" y1="1354.74" x2="117.50" y2="1354.74" stroke="#000" stroke-width="1.15" />
<text transform="translate(74.08,1372.44) scale(0.9114,1)" font-size="31.60" fill="#000">10</text>
<line x1="136.20" y1="1425.17" x2="142.00" y2="1425.17" stroke="#000" stroke-width="1.1" />
<text transform="translate(108.53,1425.37) scale(0.9202,1)" font-size="23.20" fill="#000">11</text>
<line x1="94.20" y1="1418.97" x2="107.00" y2="1418.97" stroke="#000" stroke-width="1.15" />
<text transform="translate(62.92,1436.67) scale(0.9331,1)" font-size="31.60" fill="#000">10</text>
<line x1="136.20" y1="1489.40" x2="142.00" y2="1489.40" stroke="#000" stroke-width="1.1" />
<text transform="translate(108.60,1489.60) scale(0.8843,1)" font-size="23.20" fill="#000">13</text>
<line x1="94.20" y1="1483.20" x2="107.00" y2="1483.20" stroke="#000" stroke-width="1.15" />
<text transform="translate(62.92,1500.90) scale(0.9331,1)" font-size="31.60" fill="#000">10</text>
<line x1="142.00" y1="1489.40" x2="142.00" y2="1492.80" stroke="#000" stroke-width="0.9" />
<line x1="180.37" y1="1489.40" x2="180.37" y2="1492.80" stroke="#000" stroke-width="0.9" />
<line x1="210.13" y1="1489.40" x2="210.13" y2="1492.80" stroke="#000" stroke-width="0.9" />
<line x1="234.44" y1="1489.40" x2="234.44" y2="1492.80" stroke="#000" stroke-width="0.9" />
<line x1="255.00" y1="1489.40" x2="255.00" y2="1492.80" stroke="#000" stroke-width="0.9" />
<line x1="272.81" y1="1489.40" x2="272.81" y2="1492.80" stroke="#000" stroke-width="0.9" />
<line x1="288.52" y1="1489.40" x2="288.52" y2="1492.80" stroke="#000" stroke-width="0.9" />
<line x1="302.57" y1="1489.40" x2="302.57" y2="1495.20" stroke="#000" stroke-width="1.1" />
<text transform="translate(282.14,1522.60) scale(0.9186,1)" font-size="31.60" fill="#000">10</text>
<text transform="translate(310.25,1511.60) scale(1.0000,1)" font-size="23.20" fill="#000">1</text>
<line x1="395.01" y1="1489.40" x2="395.01" y2="1492.80" stroke="#000" stroke-width="0.9" />
<line x1="449.09" y1="1489.40" x2="449.09" y2="1492.80" stroke="#000" stroke-width="0.9" />
<line x1="487.45" y1="1489.40" x2="487.45" y2="1492.80" stroke="#000" stroke-width="0.9" />
<line x1="517.21" y1="1489.40" x2="517.21" y2="1492.80" stroke="#000" stroke-width="0.9" />
<line x1="541.53" y1="1489.40" x2="541.53" y2="1492.80" stroke="#000" stroke-width="0.9" />
<line x1="562.09" y1="1489.40" x2="562.09" y2="1492.80" stroke="#000" stroke-width="0.9" />
<line x1="579.90" y1="1489.40" x2="579.90" y2="1492.80" stroke="#000" stroke-width="0.9" />
<line x1="595.61" y1="1489.40" x2="595.61" y2="1492.80" stroke="#000" stroke-width="0.9" />
<line x1="609.66" y1="1489.40" x2="609.66" y2="1495.20" stroke="#000" stroke-width="1.1" />
<text transform="translate(589.25,1522.60) scale(0.9186,1)" font-size="31.60" fill="#000">10</text>
<text transform="translate(617.20,1511.60) scale(1.0000,1)" font-size="23.20" fill="#000">2</text>
<line x1="702.10" y1="1489.40" x2="702.10" y2="1492.80" stroke="#000" stroke-width="0.9" />
<text transform="translate(142.10,51.20) scale(1.1151,1)" font-size="35.57" font-style="italic" fill="#000">R</text>
<text transform="translate(166.16,51.20) scale(0.9750,1)" font-size="35.57" font-style="italic" fill="#000">a</text>
<text transform="translate(191.92,56.20) scale(1.3698,1)" font-size="34.70" fill="#000">=</text>
<text transform="translate(217.57,51.20) scale(0.9667,1)" font-size="34.70" fill="#000">5</text>
<text transform="translate(239.92,56.20) scale(1.0421,1)" font-size="41.70" fill="#000">×</text>
<text transform="translate(273.88,51.20) scale(0.9618,1)" font-size="34.70" fill="#000">10</text>
<text transform="translate(306.47,38.20) scale(0.9501,1)" font-size="23.64" fill="#000">9</text>
<text transform="translate(324.93,51.20) scale(0.8262,1)" font-size="34.70" fill="#000">,</text>
<text transform="translate(339.62,51.20) scale(1.1661,1)" font-size="35.57" font-style="italic" fill="#000">E</text>
<text transform="translate(374.22,56.20) scale(1.3698,1)" font-size="34.70" fill="#000">=</text>
<text transform="translate(408.05,51.20) scale(0.9717,1)" font-size="34.70" fill="#000">10</text>
<line x1="443.00" y1="33.50" x2="456.50" y2="33.50" stroke="#000" stroke-width="1.3" />
<text transform="translate(457.43,38.20) scale(1.0688,1)" font-size="23.64" fill="#000">6</text>
<text transform="translate(142.10,555.50) scale(1.1151,1)" font-size="35.57" font-style="italic" fill="#000">R</text>
<text transform="translate(166.16,555.50) scale(0.9750,1)" font-size="35.57" font-style="italic" fill="#000">a</text>
<text transform="translate(193.66,560.50) scale(1.4070,1)" font-size="34.70" fill="#000">=</text>
<text transform="translate(221.29,555.50) scale(0.8585,1)" font-size="34.70" fill="#000">1</text>
<text transform="translate(243.58,560.50) scale(1.0540,1)" font-size="41.70" fill="#000">×</text>
<text transform="translate(277.99,555.50) scale(0.9585,1)" font-size="34.70" fill="#000">10</text>
<text transform="translate(310.47,542.50) scale(0.9501,1)" font-size="23.64" fill="#000">9</text>
<text transform="translate(322.77,555.50) scale(0.8646,1)" font-size="34.70" fill="#000">,</text>
<text transform="translate(346.02,555.50) scale(1.1615,1)" font-size="35.57" font-style="italic" fill="#000">E</text>
<text transform="translate(380.39,560.50) scale(1.3884,1)" font-size="34.70" fill="#000">=</text>
<text transform="translate(415.56,555.50) scale(0.9684,1)" font-size="34.70" fill="#000">10</text>
<line x1="451.10" y1="537.80" x2="464.40" y2="537.80" stroke="#000" stroke-width="1.3" />
<text transform="translate(464.59,542.50) scale(1.2613,1)" font-size="23.64" fill="#000">5</text>
<text transform="translate(142.10,1061.50) scale(1.1151,1)" font-size="35.57" font-style="italic" fill="#000">R</text>
<text transform="translate(166.16,1061.50) scale(0.9750,1)" font-size="35.57" font-style="italic" fill="#000">a</text>
<text transform="translate(192.79,1066.50) scale(1.3884,1)" font-size="34.70" fill="#000">=</text>
<text transform="translate(219.02,1061.50) scale(1.0201,1)" font-size="34.70" fill="#000">3</text>
<text transform="translate(242.22,1066.50) scale(1.0421,1)" font-size="41.70" fill="#000">×</text>
<text transform="translate(276.18,1061.50) scale(0.9618,1)" font-size="34.70" fill="#000">10</text>
<text transform="translate(308.78,1048.50) scale(0.9863,1)" font-size="23.64" fill="#000">7</text>
<text transform="translate(320.68,1061.50) scale(0.8646,1)" font-size="34.70" fill="#000">,</text>
<text transform="translate(343.49,1061.50) scale(1.1060,1)" font-size="35.57" font-style="italic" fill="#000">E</text>
<text transform="translate(376.79,1066.50) scale(1.3884,1)" font-size="34.70" fill="#000">=</text>
<text transform="translate(411.85,1061.50) scale(0.9717,1)" font-size="34.70" fill="#000">10</text>
<line x1="446.70" y1="1043.80" x2="460.20" y2="1043.80" stroke="#000" stroke-width="1.3" />
<text transform="translate(462.15,1048.50) scale(1.1646,1)" font-size="23.64" fill="#000">4</text>
<text transform="translate(49.60,369.06) rotate(-90) scale(1.1596,1)" font-size="64.73" font-style="italic">E</text>
<text transform="translate(60.00,323.16) rotate(-90) scale(1.0553,1)" font-size="45.80" font-style="italic">R</text>
<text transform="translate(50.00,265.50) rotate(-90) scale(0.8814,1)" font-size="63.44">&amp;</text>
<text transform="translate(49.60,188.08) rotate(-90) scale(1.1316,1)" font-size="64.73" font-style="italic">E</text>
<text transform="translate(60.00,144.13) rotate(-90) scale(1.1065,1)" font-size="45.80" font-style="italic">Z</text>
<text transform="translate(49.60,854.46) rotate(-90) scale(1.1570,1)" font-size="64.73" font-style="italic">E</text>
<text transform="translate(60.00,808.66) rotate(-90) scale(1.0553,1)" font-size="45.80" font-style="italic">R</text>
<text transform="translate(50.00,750.99) rotate(-90) scale(0.8793,1)" font-size="63.44">&amp;</text>
<text transform="translate(49.60,673.49) rotate(-90) scale(1.1290,1)" font-size="64.73" font-style="italic">E</text>
<text transform="translate(60.00,629.63) rotate(-90) scale(1.1065,1)" font-size="45.80" font-style="italic">Z</text>
<text transform="translate(49.60,1372.08) rotate(-90) scale(1.1316,1)" font-size="64.73" font-style="italic">E</text>
<text transform="translate(60.00,1327.26) rotate(-90) scale(1.0553,1)" font-size="45.80" font-style="italic">R</text>
<text transform="translate(50.00,1268.60) rotate(-90) scale(0.8814,1)" font-size="63.44">&amp;</text>
<text transform="translate(49.60,1191.09) rotate(-90) scale(1.1290,1)" font-size="64.73" font-style="italic">E</text>
<text transform="translate(60.00,1147.23) rotate(-90) scale(1.1065,1)" font-size="45.80" font-style="italic">Z</text>
<text transform="translate(483.63,1535.50) scale(0.9401,1)" font-size="45.04" font-style="italic" fill="#000">k</text>
<text transform="translate(504.90,1544.70) scale(0.9928,1)" font-size="29.62" fill="#000">0</text>
<text transform="translate(519.57,1544.70) scale(1.3822,1)" font-size="29.62" font-style="italic" fill="#000">n</text>
<rect x="499.8" y="14.0" width="309.4" height="131.3" rx="3.6" ry="3.6" fill="#fff" stroke="#ccc" stroke-width="1.35"/>
<line x1="518.20" y1="34.70" x2="560.20" y2="34.70" stroke="#000" stroke-width="3.6" />
<line x1="518.20" y1="78.00" x2="560.20" y2="78.00" stroke="#B22222" stroke-width="3.6" />
<line x1="518.20" y1="121.50" x2="560.20" y2="121.50" stroke="#E3A5A5" stroke-width="3.6" />
<text transform="translate(580.00,42.60) scale(1.1690,1)" font-size="27.18" font-style="italic" fill="#000">E</text>
<text transform="translate(599.61,46.70) scale(1.1604,1)" font-size="19.39" font-style="italic" fill="#000">R</text>
<text transform="translate(621.31,42.60) scale(1.0499,1)" font-size="27.18" fill="#000">Annulus (Eq)</text>
<text transform="translate(576.51,87.10) scale(1.1933,1)" font-size="27.18" font-style="italic" fill="#000">E</text>
<text transform="translate(596.12,91.20) scale(1.1482,1)" font-size="19.39" font-style="italic" fill="#000">Z</text>
<text transform="translate(617.42,87.10) scale(1.0309,1)" font-size="27.18" fill="#000">Annulus (Geos)</text>
<text transform="translate(576.51,130.70) scale(1.1933,1)" font-size="27.18" font-style="italic" fill="#000">E</text>
<text transform="translate(596.12,134.60) scale(1.1482,1)" font-size="19.39" font-style="italic" fill="#000">Z</text>
<text transform="translate(617.02,130.70) scale(1.0444,1)" font-size="27.18" fill="#000">Annulus (Eq)</text>
<rect x="510.2" y="1036.9" width="250.2" height="106.4" rx="3.6" ry="3.6" fill="#fff" stroke="#ccc" stroke-width="1.35"/>
<line x1="525.20" y1="1067.20" x2="567.20" y2="1067.20" stroke="#B22222" stroke-width="3.6" stroke-dasharray="8.1 3.17"/>
<line x1="525.20" y1="1111.20" x2="567.20" y2="1111.20" stroke="#000" stroke-width="3.6" stroke-dasharray="8.1 3.17"/>
<text transform="translate(590.44,1078.00) scale(0.9760,1)" font-size="32.75" font-style="italic" fill="#000">C</text>
<text transform="translate(613.29,1082.50) scale(1.0973,1)" font-size="22.93" font-style="italic" fill="#000">Z</text>
<text transform="translate(630.28,1078.00) scale(0.9829,1)" font-size="32.75" font-style="italic" fill="#000">β</text>
<text transform="translate(647.08,1066.10) scale(1.0392,1)" font-size="23.19" fill="#000">2</text>
<text transform="translate(658.98,1078.00) scale(1.0427,1)" font-size="32.75" font-style="italic" fill="#000">k</text>
<line x1="677.30" y1="1062.10" x2="690.60" y2="1062.10" stroke="#000" stroke-width="1.2" />
<text transform="translate(690.97,1067.60) scale(0.9963,1)" font-size="23.19" fill="#000">5</text>
<text transform="translate(591.54,1122.30) scale(0.9760,1)" font-size="32.75" font-style="italic" fill="#000">C</text>
<text transform="translate(615.53,1126.80) scale(1.1558,1)" font-size="22.93" font-style="italic" fill="#000">R</text>
<text transform="translate(631.73,1122.30) scale(0.8488,1)" font-size="33.13" fill="#000">Π</text>
<text transform="translate(651.94,1111.80) scale(1.0753,1)" font-size="23.19" fill="#000">2/3</text>
<text transform="translate(683.99,1122.30) scale(1.0284,1)" font-size="32.75" font-style="italic" fill="#000">k</text>
<line x1="702.00" y1="1105.90" x2="715.30" y2="1105.90" stroke="#000" stroke-width="1.2" />
<text transform="translate(715.64,1111.80) scale(1.0926,1)" font-size="23.19" fill="#000">5/3</text>
</svg>
</body></html>
